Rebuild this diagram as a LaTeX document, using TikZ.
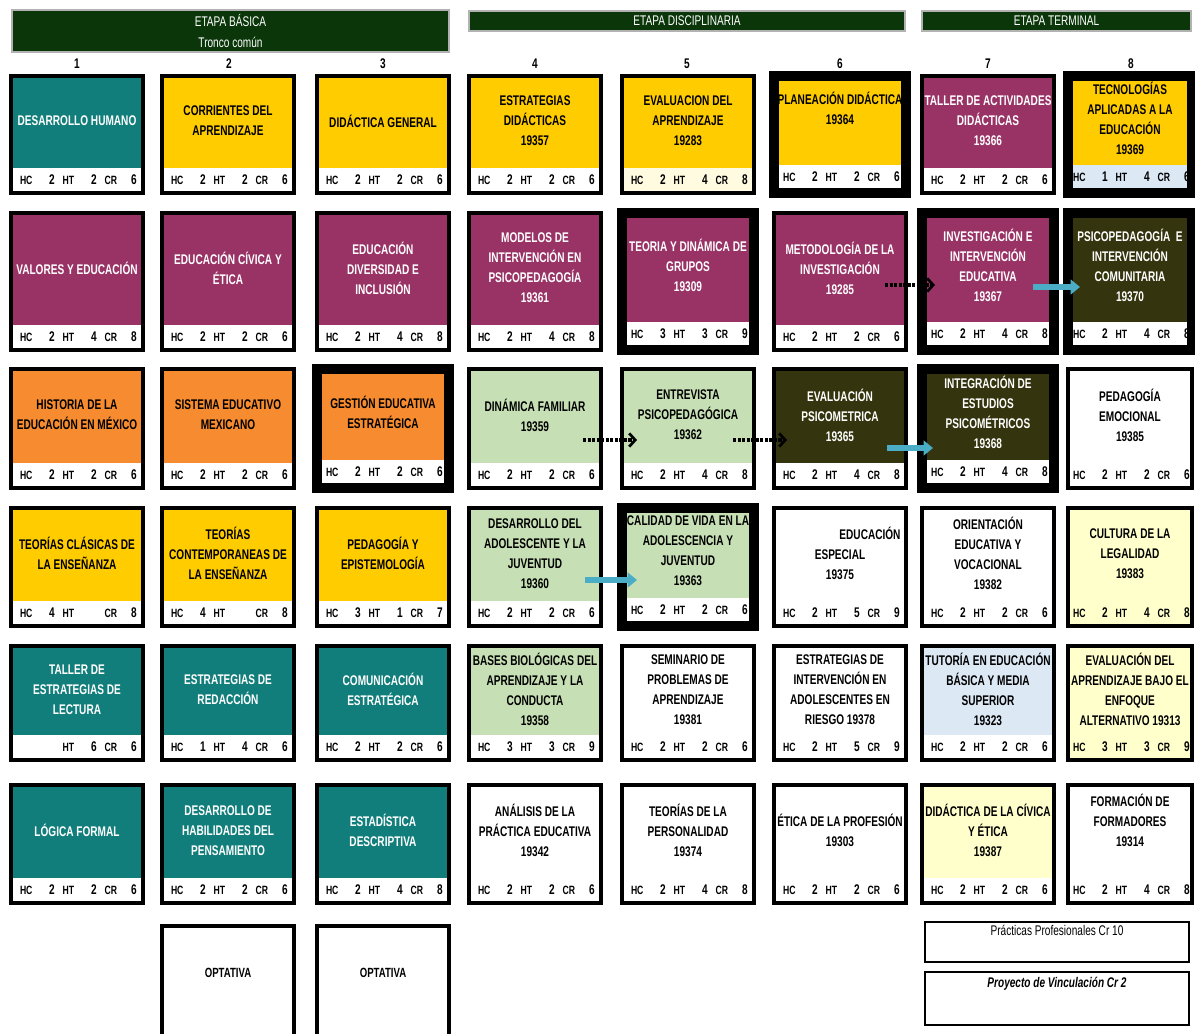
\documentclass[tikz,border=0pt]{standalone}
\usepackage{fontspec}
\setmainfont{Liberation Sans}[FakeStretch=0.72]
\usetikzlibrary{positioning, arrows.meta, calc}
\definecolor{VerdeAzul}{HTML}{117E7B}
\definecolor{Amarillo}{HTML}{FFCC00}
\definecolor{AmarTenue}{HTML}{FFFBE0}
\definecolor{Morado}{HTML}{993366}
\definecolor{Naranja}{HTML}{F68B2F}
\definecolor{VerdeClaro}{HTML}{C6DFB4}
\definecolor{Oliva}{HTML}{34340E}
\definecolor{AmarClaro}{HTML}{FFFFCC}
\definecolor{AzulClaro}{HTML}{DCE9F5}
\definecolor{VerdeEtapa}{HTML}{0A360A}
\definecolor{Celeste}{HTML}{4BACC6}
\tikzset{
    etapa/.style={draw=gray!60, fill=VerdeEtapa, text=white, line width=1pt, align=center, inner sep=0pt, font=\fontsize{10.5}{15.5}\selectfont},
    numero/.style={font=\fontsize{10.5}{11}\selectfont\bfseries},
    materia/.style={rectangle, draw=none, minimum width=99pt, inner sep=0pt},
    fila1/.style={minimum height=87.75pt},
    fila2/.style={minimum height=102.75pt},
    fila3/.style={minimum height=89.25pt},
    fila4/.style={minimum height=88.5pt},
    fila5/.style={minimum height=85.5pt},
    fila6/.style={minimum height=88.5pt},
    estrecha/.style={minimum width=93pt},
    franja/.style={anchor=south, fill=white, minimum width=99pt, minimum height=17pt, inner sep=0pt, outer sep=1.5pt, font=\fontsize{10.5}{12}\selectfont\bfseries},
    rotulo/.style={align=center, inner sep=0pt, font=\fontsize{10.5}{15}\selectfont\bfseries},
    claro/.style={text=black},
    oscuro/.style={text=white},
    marco/.style={draw=black, line width=3pt},
    grueso/.style={line width=7.5pt, outer sep=3.75pt},
    optativa/.style={anchor=north, draw=black, line width=3pt, fill=white, minimum width=99pt, inner xsep=0pt, inner ysep=2pt, text height=36.25pt, text depth=100pt, font=\fontsize{10}{12}\selectfont\bfseries},
    practica/.style={anchor=north, draw=black, line width=1.2pt, fill=white, minimum width=198pt, inner ysep=2pt, font=\fontsize{10.5}{12}\selectfont},
    punteada/.style={densely dotted, line width=2.4pt, -{Straight Barb[length=4.5pt, width=10pt, line width=2pt]}},
    celeste/.style={draw=Celeste, line width=4.5pt, -{Triangle[length=7pt, width=11pt]}},
}
\newcommand{\etiq}{\fontsize{9}{10}\selectfont}
\newcommand{\horas}[4][HC]{%
  \hspace*{2pt}\makebox[26pt]{{\etiq #1}\hfill #2}%
  \hspace*{6pt}\makebox[25.5pt]{{\etiq HT}\hfill #3}%
  \hspace*{6pt}\makebox[24pt]{{\etiq CR}\hfill #4}}
\newcommand{\materia}[7][]{%
  \node[materia, #1, #4, outer sep=0pt] (#2) at #3 {};
  \node[franja, #1] (#2h) at (#2.south) {#7};
  \node[rotulo, #5] (#2t) at ($(#2.north)!0.5!(#2h.north)$) {#6};
  \draw[marco, #1, fill=none] (#2.north west) rectangle (#2.south east);
}

\begin{document}
\begin{tikzpicture}[x=0.75pt, y=-0.75pt]
\useasboundingbox (0,0) rectangle (1195,1034);

\node[etapa, minimum width=327.75pt, minimum height=31.5pt] (basica) at (230.5,31) {ETAPA BÁSICA\\Tronco común};
\node[etapa, minimum width=327pt, minimum height=15pt] (disciplinaria) at (687,21) {ETAPA DISCIPLINARIA};
\node[etapa, minimum width=201.75pt, minimum height=15pt] (terminal) at (1056.5,21) {ETAPA TERMINAL};
\foreach \n/\x in {1/77, 2/229, 3/383, 4/535, 5/687, 6/840, 7/988, 8/1131}
    \node[numero] (sem\n) at (\x,64) {\n};

\materia{deshum}{(77,134.5)}{fill=VerdeAzul, fila1}{oscuro}{DESARROLLO HUMANO}{\horas{2}{2}{6}}
\materia{corrientes}{(228,134.5)}{fill=Amarillo, fila1}{claro}{CORRIENTES DEL\\APRENDIZAJE}{\horas{2}{2}{6}}
\materia{didgen}{(383,134.5)}{fill=Amarillo, fila1}{claro}{DIDÁCTICA GENERAL}{\horas{2}{2}{6}}
\materia{estdid}{(535,134.5)}{fill=Amarillo, fila1}{claro}{ESTRATEGIAS\\DIDÁCTICAS\\19357}{\horas{2}{2}{6}}
\materia[fill=AmarTenue]{evalap}{(688,134.5)}{fill=Amarillo, fila1}{claro}{EVALUACION DEL\\APRENDIZAJE\\19283}{\horas{2}{4}{8}}
\materia[grueso]{planeacion}{(840,134.5)}{fill=Amarillo, fila1}{claro, yshift=7.5pt}{PLANEACIÓN DIDÁCTICA\\19364}{\horas{2}{2}{6}}
\materia{tallerad}{(988,134.5)}{fill=Morado, fila1}{oscuro}{TALLER DE ACTIVIDADES\\DIDÁCTICAS\\19366}{\horas{2}{2}{6}}
\materia[grueso, estrecha, fill=AzulClaro]{tecnologias}{(1130,134.5)}{fill=Amarillo, fila1}{claro}{TECNOLOGÍAS\\APLICADAS A LA\\EDUCACIÓN\\19369}{\horas{1}{4}{6}}

\materia{valores}{(77,281.5)}{fill=Morado, fila2}{oscuro}{VALORES Y EDUCACIÓN}{\horas{2}{4}{8}}
\materia{civica}{(228,281.5)}{fill=Morado, fila2}{oscuro}{EDUCACIÓN CÍVICA Y\\ÉTICA}{\horas{2}{2}{6}}
\materia{diversidad}{(383,281.5)}{fill=Morado, fila2}{oscuro}{EDUCACIÓN\\DIVERSIDAD E\\INCLUSIÓN}{\horas{2}{4}{8}}
\materia{modelos}{(535,281.5)}{fill=Morado, fila2}{oscuro}{MODELOS DE\\INTERVENCIÓN EN\\PSICOPEDAGOGÍA\\19361}{\horas{2}{4}{8}}
\materia[grueso]{grupos}{(688,281.5)}{fill=Morado, fila2}{oscuro}{TEORIA Y DINÁMICA DE\\GRUPOS\\19309}{\horas{3}{3}{9}}
\materia{metodologia}{(840,281.5)}{fill=Morado, fila2}{oscuro}{METODOLOGÍA DE LA\\INVESTIGACIÓN\\19285}{\horas{2}{2}{6}}
\materia[grueso]{investigacion}{(988,281.5)}{fill=Morado, fila2}{oscuro}{INVESTIGACIÓN E\\INTERVENCIÓN\\EDUCATIVA\\19367}{\horas{2}{4}{8}}
\materia[grueso, estrecha]{comunitaria}{(1130,281.5)}{fill=Oliva, fila2}{oscuro}{PSICOPEDAGOGÍA\ \ E\\INTERVENCIÓN\\COMUNITARIA\\19370}{\horas{2}{4}{8}}

\materia{historia}{(77,428.5)}{fill=Naranja, fila3}{claro}{HISTORIA DE LA\\EDUCACIÓN EN MÉXICO}{\horas{2}{2}{6}}
\materia{sistema}{(228,428.5)}{fill=Naranja, fila3}{claro}{SISTEMA EDUCATIVO\\MEXICANO}{\horas{2}{2}{6}}
\materia[grueso]{gestion}{(383,428.5)}{fill=Naranja, fila3}{claro}{GESTIÓN EDUCATIVA\\ESTRATÉGICA}{\horas{2}{2}{6}}
\materia{familiar}{(535,428.5)}{fill=VerdeClaro, fila3}{claro}{DINÁMICA FAMILIAR\\19359}{\horas{2}{2}{6}}
\materia{entrevista}{(688,428.5)}{fill=VerdeClaro, fila3}{claro}{ENTREVISTA\\PSICOPEDAGÓGICA\\19362}{\horas{2}{4}{8}}
\materia{psicometrica}{(840,428.5)}{fill=Oliva, fila3}{oscuro}{EVALUACIÓN\\PSICOMETRICA\\19365}{\horas{2}{4}{8}}
\materia[grueso]{integracion}{(988,428.5)}{fill=Oliva, fila3}{oscuro}{INTEGRACIÓN DE\\ESTUDIOS\\PSICOMÉTRICOS\\19368}{\horas{2}{4}{8}}
\materia[estrecha]{emocional}{(1130,428.5)}{fill=white, fila3}{claro}{PEDAGOGÍA\\EMOCIONAL\\19385}{\horas{2}{2}{6}}

\materia{clasicas}{(77,567)}{fill=Amarillo, fila4}{claro}{TEORÍAS CLÁSICAS DE\\LA ENSEÑANZA}{\horas{4}{}{8}}
\materia{contemporaneas}{(228,567)}{fill=Amarillo, fila4}{claro}{TEORÍAS\\CONTEMPORANEAS DE\\LA ENSEÑANZA}{\horas{4}{}{8}}
\materia{epistemologia}{(383,567)}{fill=Amarillo, fila4}{claro}{PEDAGOGÍA Y\\EPISTEMOLOGÍA}{\horas{3}{1}{7}}
\materia{adolescente}{(535,567)}{fill=VerdeClaro, fila4}{claro}{DESARROLLO DEL\\ADOLESCENTE Y LA\\JUVENTUD\\19360}{\horas{2}{2}{6}}
\materia[grueso]{calidad}{(688,567)}{fill=VerdeClaro, fila4}{claro}{CALIDAD DE VIDA EN LA\\ADOLESCENCIA Y\\JUVENTUD\\19363}{\horas{2}{2}{6}}
\materia{especial}{(840,567)}{fill=white, fila4}{claro}{\hspace*{45pt}EDUCACIÓN\\ESPECIAL\\19375}{\horas{2}{5}{9}}
\materia{orientacion}{(988,567)}{fill=white, fila4}{claro}{ORIENTACIÓN\\EDUCATIVA Y\\VOCACIONAL\\19382}{\horas{2}{2}{6}}
\materia[estrecha, fill=AmarClaro]{legalidad}{(1130,567)}{fill=AmarClaro, fila4}{claro}{CULTURA DE LA\\LEGALIDAD\\19383}{\horas{2}{4}{8}}

\materia{lectura}{(77,703)}{fill=VerdeAzul, fila5}{oscuro}{TALLER DE\\ESTRATEGIAS DE\\LECTURA}{\horas[]{}{6}{6}}
\materia{redaccion}{(228,703)}{fill=VerdeAzul, fila5}{oscuro}{ESTRATEGIAS DE\\REDACCIÓN}{\horas{1}{4}{6}}
\materia{comunicacion}{(383,703)}{fill=VerdeAzul, fila5}{oscuro}{COMUNICACIÓN\\ESTRATÉGICA}{\horas{2}{2}{6}}
\materia{biologicas}{(535,703)}{fill=VerdeClaro, fila5}{claro}{BASES BIOLÓGICAS DEL\\APRENDIZAJE Y LA\\CONDUCTA\\19358}{\horas{3}{3}{9}}
\materia{seminario}{(688,703)}{fill=white, fila5}{claro}{SEMINARIO DE\\PROBLEMAS DE\\APRENDIZAJE\\19381}{\horas{2}{2}{6}}
\materia{riesgo}{(840,703)}{fill=white, fila5}{claro}{ESTRATEGIAS DE\\INTERVENCIÓN EN\\ADOLESCENTES EN\\RIESGO 19378}{\horas{2}{5}{9}}
\materia{tutoria}{(988,703)}{fill=AzulClaro, fila5}{claro}{TUTORÍA EN EDUCACIÓN\\BÁSICA Y MEDIA\\SUPERIOR\\19323}{\horas{2}{2}{6}}
\materia[estrecha, fill=AmarClaro]{enfoque}{(1130,703)}{fill=AmarClaro, fila5}{claro}{EVALUACIÓN DEL\\APRENDIZAJE BAJO EL\\ENFOQUE\\ALTERNATIVO 19313}{\horas{3}{3}{9}}

\materia{logica}{(77,844)}{fill=VerdeAzul, fila6}{oscuro}{LÓGICA FORMAL}{\horas{2}{2}{6}}
\materia{habilidades}{(228,844)}{fill=VerdeAzul, fila6}{oscuro}{DESARROLLO DE\\HABILIDADES DEL\\PENSAMIENTO}{\horas{2}{2}{6}}
\materia{estadistica}{(383,844)}{fill=VerdeAzul, fila6}{oscuro}{ESTADÍSTICA\\DESCRIPTIVA}{\horas{2}{4}{8}}
\materia{analisis}{(535,844)}{fill=white, fila6}{claro}{ANÁLISIS DE LA\\PRÁCTICA EDUCATIVA\\19342}{\horas{2}{2}{6}}
\materia{personalidad}{(688,844)}{fill=white, fila6}{claro}{TEORÍAS DE LA\\PERSONALIDAD\\19374}{\horas{2}{4}{8}}
\materia{eticaprof}{(840,844)}{fill=white, fila6}{claro}{ÉTICA DE LA PROFESIÓN\\19303}{\horas{2}{2}{6}}
\materia{didcivica}{(988,844)}{fill=AmarClaro, fila6}{claro}{DIDÁCTICA DE LA CÍVICA\\Y ÉTICA\\19387}{\horas{2}{2}{6}}
\materia[estrecha]{formadores}{(1130,844)}{fill=white, fila6}{claro, yshift=8pt}{FORMACIÓN DE\\FORMADORES\\19314}{\horas{2}{4}{8}}

\node[optativa] (optativa1) at (228,924) {OPTATIVA};
\node[optativa] (optativa2) at (383,924) {OPTATIVA};
\node[practica, text height=8.5pt, text depth=17.5pt] (practicas) at (1057,921) {Prácticas Profesionales Cr 10};
\node[practica, text height=10pt, text depth=26pt, font=\fontsize{10.5}{12}\selectfont\bfseries\itshape] (proyecto) at (1057,971) {Proyecto de Vinculación Cr 2};

\draw[punteada] ([shift={(-21,3.5)}]metodologia.east) -- ([shift={(13,3.5)}]investigacion.west);
\draw[celeste] ([shift={(-21,5.5)}]investigacion.east) -- ([shift={(12,5.5)}]comunitaria.west);
\draw[punteada] ([shift={(-18,11.5)}]familiar.east) -- ([shift={(15,11.5)}]entrevista.west);
\draw[punteada] ([shift={(-21,11.5)}]entrevista.east) -- ([shift={(13,11.5)}]psicometrica.west);
\draw[celeste] ([shift={(-19,19.5)}]psicometrica.east) -- ([shift={(11,19.5)}]integracion.west);
\draw[celeste] ([shift={(-16,13)}]adolescente.east) -- ([shift={(15,13)}]calidad.west);
\end{tikzpicture}
\end{document}
